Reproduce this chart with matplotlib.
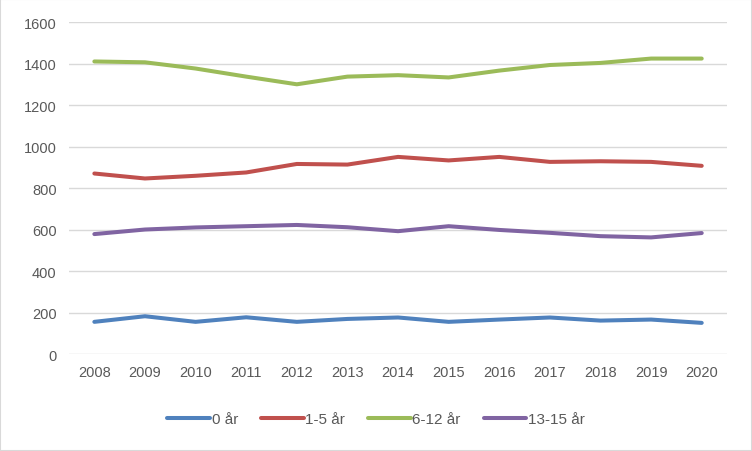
import matplotlib
matplotlib.use("Agg")
import matplotlib.pyplot as plt
from matplotlib.patches import Rectangle

years = ["2008", "2009", "2010", "2011", "2012", "2013", "2014",
         "2015", "2016", "2017", "2018", "2019", "2020"]

age_0 = [155, 182, 155, 177, 155, 169, 176, 155, 166, 176, 161, 166, 150]
age_1_5 = [870, 846, 859, 875, 916, 913, 950, 933, 950, 926, 929, 926, 907]
age_6_12 = [1410, 1406, 1376, 1337, 1300, 1337, 1344, 1333, 1366, 1393, 1403, 1424, 1424]
age_13_15 = [578, 600, 610, 616, 622, 611, 592, 616, 598, 584, 568, 562, 583]

labels = ["0 år", "1-5 år", "6-12 år", "13-15 år"]
colors = ["#4f81bd", "#c0504d", "#9bbb59", "#8064a2"]

plt.rcParams['font.family'] = ['Liberation Sans', 'DejaVu Sans']
text_col = "#595959"

fig = plt.figure(figsize=(7.52, 4.52), dpi=100)
ax = fig.add_axes([0.0918, 0.2146, 0.875, 0.7344])

x = list(range(len(years)))
for series, lab, col in zip([age_0, age_1_5, age_6_12, age_13_15], labels, colors):
    ax.plot(x, series, color=col, lw=2.9, label=lab, solid_capstyle='round',
            solid_joinstyle='round')

ax.set_xlim(-0.5, len(years) - 0.5)
ax.set_ylim(0, 1600)
ax.set_yticks(range(0, 1601, 200))
ax.set_xticks(x)
ax.set_xticklabels(years)
ax.grid(axis='y', color='#d9d9d9', lw=1)
ax.set_axisbelow(True)
for s in ax.spines.values():
    s.set_visible(False)
ax.tick_params(length=0, labelsize=10.5, colors=text_col, pad=8)
ax.tick_params(axis='y', pad=9)

fig.legend(loc='center', bbox_to_anchor=(0.5, 0.07), ncol=4, frameon=False,
           fontsize=11, labelcolor=text_col, handlelength=2.8,
           handletextpad=0.1, columnspacing=1.5)

fig.patches.append(Rectangle((0, 0), 1, 1, transform=fig.transFigure,
                             fill=False, edgecolor='#d9d9d9', lw=1.5))

fig.savefig("out.png", dpi=100)
